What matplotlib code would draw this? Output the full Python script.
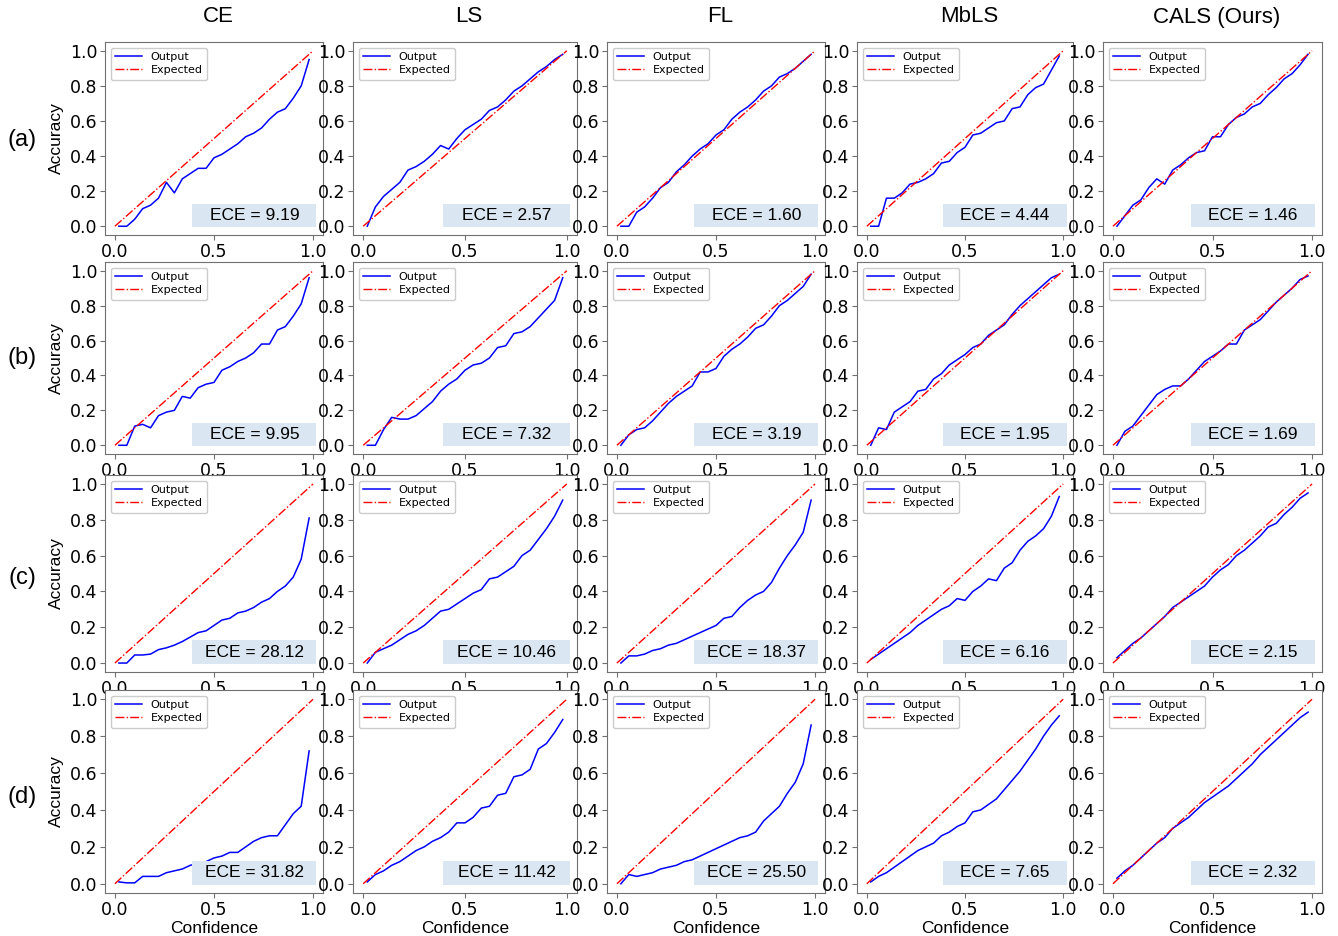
import numpy as np
import matplotlib
matplotlib.use("Agg")
import matplotlib.pyplot as plt
from matplotlib.patches import Rectangle

methods = ["CE", "LS", "FL", "MbLS", "CALS (Ours)"]
row_labels = ["(a)", "(b)", "(c)", "(d)"]
confidence = [0.02, 0.06, 0.10, 0.14, 0.18, 0.22, 0.26, 0.30, 0.34, 0.38, 0.42, 0.46, 0.50,
              0.54, 0.58, 0.62, 0.66, 0.70, 0.74, 0.78, 0.82, 0.86, 0.90, 0.94, 0.98]

# row (a)
acc_a_ce = [0.0, 0.0, 0.04, 0.10, 0.12, 0.16, 0.25, 0.19, 0.27, 0.30, 0.33, 0.33, 0.39,
            0.41, 0.44, 0.47, 0.51, 0.53, 0.56, 0.61, 0.65, 0.67, 0.73, 0.80, 0.95]
acc_a_ls = [0.0, 0.11, 0.17, 0.21, 0.25, 0.32, 0.34, 0.37, 0.41, 0.46, 0.44, 0.50, 0.55,
            0.58, 0.61, 0.66, 0.68, 0.72, 0.77, 0.80, 0.84, 0.88, 0.91, 0.95, 0.98]
acc_a_fl = [0.0, 0.0, 0.08, 0.11, 0.16, 0.22, 0.25, 0.31, 0.35, 0.40, 0.44, 0.47, 0.52,
            0.55, 0.61, 0.65, 0.68, 0.72, 0.77, 0.80, 0.85, 0.87, 0.90, 0.94, 0.98]
acc_a_mbls = [0.0, 0.0, 0.16, 0.16, 0.19, 0.24, 0.25, 0.27, 0.30, 0.36, 0.37, 0.42, 0.45,
              0.52, 0.53, 0.56, 0.59, 0.60, 0.67, 0.68, 0.75, 0.79, 0.81, 0.89, 0.97]
acc_a_cals = [0.0, 0.06, 0.12, 0.15, 0.22, 0.27, 0.24, 0.32, 0.35, 0.39, 0.42, 0.43, 0.51,
              0.51, 0.58, 0.62, 0.64, 0.68, 0.70, 0.75, 0.79, 0.84, 0.87, 0.92, 0.98]
# row (b)
acc_b_ce = [0.0, 0.0, 0.11, 0.12, 0.10, 0.17, 0.19, 0.20, 0.28, 0.27, 0.33, 0.35, 0.36,
            0.43, 0.45, 0.48, 0.50, 0.53, 0.58, 0.58, 0.66, 0.68, 0.74, 0.81, 0.96]
acc_b_ls = [0.0, 0.0, 0.09, 0.16, 0.15, 0.15, 0.17, 0.21, 0.25, 0.31, 0.35, 0.38, 0.43,
            0.46, 0.47, 0.50, 0.56, 0.57, 0.64, 0.65, 0.68, 0.73, 0.78, 0.83, 0.96]
acc_b_fl = [0.0, 0.06, 0.09, 0.10, 0.14, 0.19, 0.24, 0.28, 0.31, 0.34, 0.42, 0.42, 0.44,
            0.51, 0.55, 0.58, 0.62, 0.67, 0.69, 0.74, 0.80, 0.83, 0.87, 0.91, 0.98]
acc_b_mbls = [0.0, 0.10, 0.09, 0.19, 0.22, 0.25, 0.31, 0.32, 0.38, 0.41, 0.46, 0.49, 0.52,
              0.56, 0.58, 0.63, 0.66, 0.69, 0.75, 0.80, 0.84, 0.88, 0.92, 0.96, 0.98]
acc_b_cals = [0.0, 0.08, 0.11, 0.17, 0.23, 0.29, 0.32, 0.34, 0.34, 0.38, 0.43, 0.48, 0.51,
              0.54, 0.58, 0.58, 0.66, 0.69, 0.72, 0.77, 0.82, 0.86, 0.90, 0.95, 0.97]
# row (c)
acc_c_ce = [0.0, 0.0, 0.045, 0.045, 0.05, 0.075, 0.085, 0.10, 0.12, 0.145, 0.17, 0.18, 0.21,
            0.24, 0.25, 0.28, 0.29, 0.31, 0.34, 0.36, 0.40, 0.43, 0.48, 0.58, 0.81]
acc_c_ls = [0.0, 0.06, 0.08, 0.10, 0.13, 0.16, 0.18, 0.21, 0.25, 0.29, 0.30, 0.33, 0.36,
            0.39, 0.41, 0.47, 0.48, 0.51, 0.54, 0.60, 0.63, 0.69, 0.75, 0.82, 0.91]
acc_c_fl = [0.0, 0.04, 0.04, 0.05, 0.07, 0.08, 0.10, 0.11, 0.13, 0.15, 0.17, 0.19, 0.21,
            0.25, 0.26, 0.31, 0.35, 0.38, 0.40, 0.45, 0.53, 0.60, 0.66, 0.73, 0.91]
acc_c_mbls = [0.02, 0.05, 0.08, 0.11, 0.14, 0.17, 0.21, 0.24, 0.27, 0.30, 0.32, 0.36, 0.35,
              0.40, 0.43, 0.47, 0.46, 0.53, 0.56, 0.63, 0.68, 0.71, 0.75, 0.82, 0.93]
acc_c_cals = [0.03, 0.07, 0.11, 0.14, 0.18, 0.22, 0.26, 0.31, 0.34, 0.37, 0.40, 0.43, 0.48,
              0.52, 0.55, 0.60, 0.63, 0.67, 0.71, 0.76, 0.78, 0.83, 0.87, 0.92, 0.95]
# row (d)
acc_d_ce = [0.01, 0.005, 0.005, 0.04, 0.04, 0.04, 0.06, 0.07, 0.08, 0.10, 0.11, 0.12, 0.14,
            0.15, 0.17, 0.17, 0.20, 0.23, 0.25, 0.26, 0.26, 0.32, 0.38, 0.42, 0.72]
acc_d_ls = [0.01, 0.05, 0.07, 0.10, 0.12, 0.15, 0.18, 0.20, 0.23, 0.25, 0.28, 0.33, 0.33,
            0.36, 0.41, 0.42, 0.48, 0.49, 0.58, 0.59, 0.62, 0.73, 0.76, 0.82, 0.89]
acc_d_fl = [0.0, 0.05, 0.04, 0.05, 0.06, 0.08, 0.09, 0.10, 0.12, 0.13, 0.15, 0.17, 0.19,
            0.21, 0.23, 0.25, 0.26, 0.28, 0.34, 0.38, 0.42, 0.49, 0.55, 0.65, 0.86]
acc_d_mbls = [0.01, 0.04, 0.06, 0.09, 0.12, 0.15, 0.18, 0.20, 0.22, 0.26, 0.28, 0.31, 0.33,
              0.39, 0.40, 0.43, 0.46, 0.51, 0.56, 0.61, 0.67, 0.73, 0.80, 0.86, 0.91]
acc_d_cals = [0.03, 0.07, 0.10, 0.14, 0.18, 0.22, 0.25, 0.30, 0.33, 0.36, 0.40, 0.44, 0.47,
              0.50, 0.53, 0.57, 0.61, 0.65, 0.70, 0.74, 0.78, 0.82, 0.86, 0.90, 0.93]

accuracies = [
    [acc_a_ce, acc_a_ls, acc_a_fl, acc_a_mbls, acc_a_cals],
    [acc_b_ce, acc_b_ls, acc_b_fl, acc_b_mbls, acc_b_cals],
    [acc_c_ce, acc_c_ls, acc_c_fl, acc_c_mbls, acc_c_cals],
    [acc_d_ce, acc_d_ls, acc_d_fl, acc_d_mbls, acc_d_cals],
]
ece_values = [
    ["9.19", "2.57", "1.60", "4.44", "1.46"],
    ["9.95", "7.32", "3.19", "1.95", "1.69"],
    ["28.12", "10.46", "18.37", "6.16", "2.15"],
    ["31.82", "11.42", "25.50", "7.65", "2.32"],
]

W, H = 1338, 936
fig = plt.figure(figsize=(W / 100, H / 100), dpi=100)
fig.patch.set_facecolor("white")

col_px = [(105, 323), (353, 577), (607, 825), (857, 1073), (1103, 1322)]
row_px = [(42, 235), (262, 454), (475, 672), (690, 893)]
row_label_y = [140, 358, 578, 797]

SANS = "Liberation Sans"
spine_c = "#707070"

for r, (top, bot) in enumerate(row_px):
    for c, (left, right) in enumerate(col_px):
        ax = fig.add_axes([left / W, 1 - bot / H, (right - left) / W, (bot - top) / H])
        ax.plot(confidence, accuracies[r][c], color="blue", lw=1.1, label="Output")
        ax.plot([0, 1], [0, 1], color="red", lw=1.0, ls="-.", label="Expected")
        ax.set_xticks([0.0, 0.5, 1.0])
        ax.set_yticks([0.0, 0.2, 0.4, 0.6, 0.8, 1.0])
        ax.tick_params(labelsize=12.5, color=spine_c, length=3.5, pad=2)
        for s in ax.spines.values():
            s.set_color(spine_c)
        leg = ax.legend(loc="upper left", fontsize=8, handlelength=2.4,
                        borderpad=0.4, labelspacing=0.3, framealpha=1.0)
        leg.get_frame().set_edgecolor("#cccccc")
        ax.add_patch(Rectangle((0.40, 0.04), 0.57, 0.12, transform=ax.transAxes,
                               facecolor="#dae6f2", edgecolor="none", zorder=3))
        ax.text(0.685, 0.10, f"ECE = {ece_values[r][c]}", transform=ax.transAxes,
                ha="center", va="center", fontsize=12.5, family=SANS, zorder=4)
        if c == 0:
            ax.set_ylabel("Accuracy", fontsize=12.5, family=SANS, labelpad=4)
        if r == len(row_px) - 1:
            ax.set_xlabel("Confidence", fontsize=12.5, family=SANS, labelpad=2)
        if r == 0:
            fig.text((left + right) / 2 / W + 0.003, 1 - 17 / H, methods[c], ha="center",
                     va="center", fontsize=16, family=SANS)
    fig.text(22 / W, 1 - row_label_y[r] / H, row_labels[r], ha="center", va="center",
             fontsize=17, family=SANS)

fig.savefig("out.png", dpi=100, facecolor="white")
